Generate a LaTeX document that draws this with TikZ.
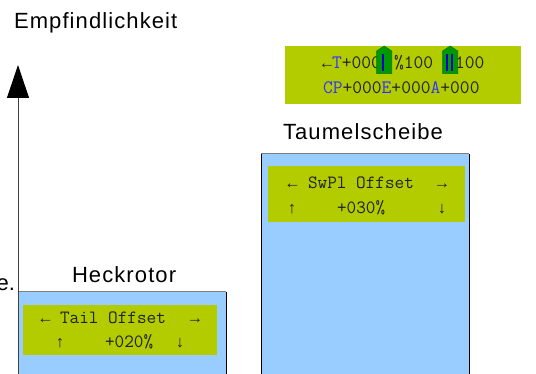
\documentclass[tikz,border=0pt]{standalone}
\usepackage{fontspec}
\setmainfont{Liberation Sans}
\newfontfamily\arrowfont{Liberation Mono}
\usetikzlibrary{arrows.meta}
\definecolor{barblue}{HTML}{99CCFF}
\definecolor{lcdgreen}{HTML}{B2CC00}
\definecolor{markgreen}{HTML}{009900}
\definecolor{markedge}{HTML}{007A00}
\definecolor{lcdblue}{HTML}{3333FF}
\definecolor{barmark}{HTML}{0000CC}
\definecolor{lcdtext}{HTML}{222222}
\tikzstyle{every node}=[inner sep=0pt, outer sep=0pt]
\tikzstyle{barlabel}=[anchor=base west, font=\fontsize{22}{26}\selectfont\addfontfeature{LetterSpace=5}]
\tikzstyle{lcd}=[anchor=base west, text=lcdtext, font=\ttfamily\fontsize{18.7}{20}\selectfont]
\tikzstyle{lcdsym}=[anchor=base, text=lcdtext, font=\arrowfont\fontsize{16.3}{18}\selectfont]
\tikzstyle{lcdbig}=[lcd, font=\ttfamily\fontsize{19}{20}\selectfont]
\tikzstyle{marker}=[fill=markgreen, draw=markedge, line width=0.6pt]

\begin{document}
\begin{tikzpicture}[x=1pt, y=-1pt, line width=1pt]
\useasboundingbox (0,0) rectangle (536,374);
% Bars
    \fill[barblue] (18,292) rectangle (226,374);
    \draw[gray] (18,292) -- (226,292);
    \draw (226,292) -- (226,374);
    \fill[barblue] (261,154) rectangle (469,374);
    \draw[gray] (261,154) -- (469,154);
    \draw (261,154) -- (261,374);
    \draw (469,154) -- (469,374);
% Axis
    \coordinate (axisbot) at (18,374);
    \coordinate (axistop) at (18,65);
    \draw[black!75, -{Triangle[length=33pt, width=22pt, color=black]}] (axisbot) -- (axistop);
% Labels
    \node[barlabel] (empf) at (14,28.5) {Empfindlichkeit};
    \node[anchor=base east, font=\fontsize{22}{26}\selectfont] (cut) at (15,291) {e.};
    \node[barlabel] (heck) at (72,283) {Heckrotor};
    \node[barlabel] (taumel) at (283,140) {Taumelscheibe};
% Displays
    \fill[lcdgreen] (23,305) rectangle (217,355);
    \node[lcdsym] (tailleft) at (45.5,324) {←};
    \node[lcd] (tailtop) at (60,324) {Tail Offset};
    \node[lcdsym] (tailright) at (195,324) {→};
    \node[lcdsym] (tailup) at (60,348) {↑};
    \node[lcd] (tailval) at (105,348) {+020\%};
    \node[lcdsym] (taildown) at (180,348) {↓};
    \fill[lcdgreen] (268,166) rectangle (465,222);
    \node[lcdsym] (swplleft) at (292.5,189) {←};
    \node[lcd] (swpltop) at (308,189) {SwPl Offset};
    \node[lcdsym] (swplright) at (442,189) {→};
    \node[lcdsym] (swplup) at (292,214) {↑};
    \node[lcd] (swplval) at (337,214) {+030\%};
    \node[lcdsym] (swpldown) at (442,214) {↓};
    \fill[lcdgreen] (285,46) rectangle (521,104);
    \node[lcdsym] (trimleft) at (327,69) {←};
    \node[lcdbig] (trim) at (332,69) {\textcolor{lcdblue}{T}+000};
    \node[lcdbig] (gain) at (394,69) {\%100};
    \node[lcdbig] (rate) at (455,69) {100};
    \node[lcdbig] (mix) at (323,94) {\textcolor{lcdblue}{CP}+000\textcolor{lcdblue}{E}+000\textcolor{lcdblue}{A}+000};
% Markers
    \draw[marker] (376.7,73.7) -- (376.7,51) -- (384.2,46) -- (391.7,51) -- (391.7,73.7) -- cycle;
    \fill[barmark] (382.3,54) rectangle (384.3,71);
    \draw[marker] (442.7,73.7) -- (442.7,51) -- (450.2,46) -- (457.7,51) -- (457.7,73.7) -- cycle;
    \fill[barmark] (445.5,54) rectangle (447.5,71);
    \fill[barmark] (450.5,54) rectangle (452.5,71);
\end{tikzpicture}
\end{document}
